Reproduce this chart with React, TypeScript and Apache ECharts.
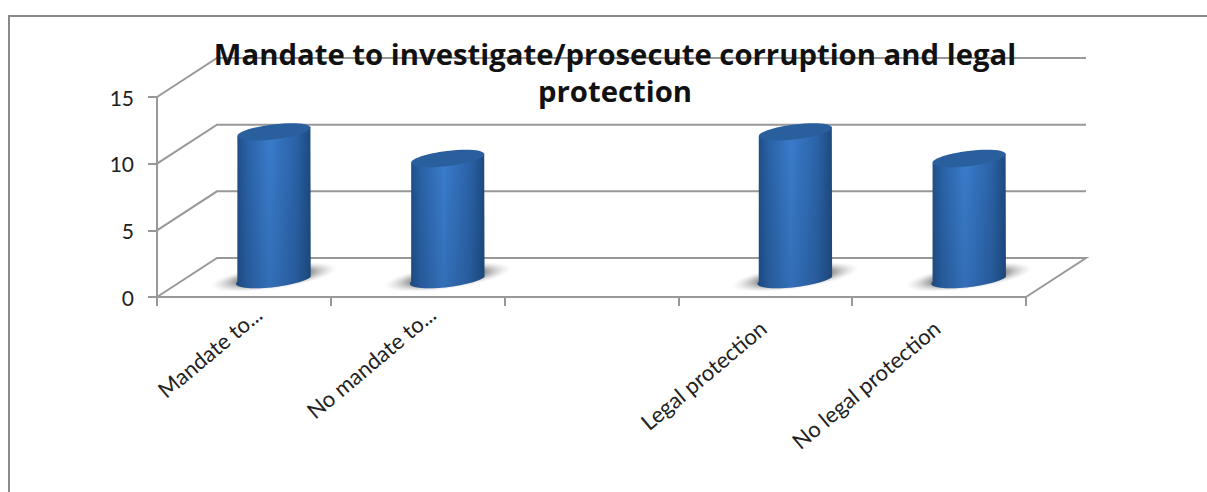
import React, { useEffect, useRef } from "react";
import * as echarts from "echarts";

const categories = ["Mandate to...", "No mandate to...", "", "Legal protection", "No legal protection"];
const values: (number | null)[] = [11, 9, null, 11, 9];
const yTicks = [0, 5, 10, 15];
const titleText = "Mandate to investigate/prosecute corruption and legal\nprotection";

const AXIS = "#989898";
const DEPTH_X = 60;
const DEPTH_Y = -39;

export default function App() {
  const ref = useRef<HTMLDivElement>(null);
  useEffect(() => {
    const chart = echarts.init(ref.current!, null, { renderer: "svg" });
    const wallData = yTicks.map((t) => [0, t]);
    const barData = values
      .map((v, i) => (v == null ? null : [i, v]))
      .filter(Boolean) as number[][];

    const renderWall = (params: any, api: any) => {
      const cs = params.coordSys;
      const p = api.coord([0, api.value(1)]);
      const left = cs.x;
      const right = cs.x + cs.width;
      const isFloor = api.value(1) === 0;
      const pts = [
        [left, p[1]],
        [left + DEPTH_X, p[1] + DEPTH_Y],
        [right + DEPTH_X, p[1] + DEPTH_Y],
      ];
      if (isFloor) pts.push([right, p[1]]);
      return {
        type: "polyline",
        shape: { points: pts },
        style: { stroke: AXIS, lineWidth: 2, fill: "none" },
        silent: true,
      };
    };

    const renderCyl = (_params: any, api: any) => {
      const top = api.coord([api.value(0), api.value(1)]);
      const base = api.coord([api.value(0), 0]);
      const cx = top[0] + DEPTH_X / 2;
      const ty = top[1] + DEPTH_Y / 2 + 1;
      const by = base[1] + DEPTH_Y / 2 - 0.5;
      const deg = 7;
      const rad = (deg * Math.PI) / 180;
      const rx = 36.8;
      const ry = 7.5;
      const ex = rx * Math.cos(rad);
      const ey = rx * Math.sin(rad);
      const d =
        `M ${cx - ex} ${ty + ey} L ${cx - ex} ${by + ey} ` +
        `A ${rx} ${ry} ${-deg} 0 0 ${cx + ex} ${by - ey} ` +
        `L ${cx + ex} ${ty - ey} Z`;
      return {
        type: "group",
        silent: true,
        children: [
          {
            type: "ellipse",
            x: cx,
            y: by,
            rotation: (8 * Math.PI) / 180,
            shape: { cx: 0, cy: 0, rx: 64, ry: 12 },
            style: {
              fill: {
                type: "radial",
                x: 0.5,
                y: 0.5,
                r: 0.5,
                colorStops: [
                  { offset: 0, color: "rgba(120,120,120,1)" },
                  { offset: 0.6, color: "rgba(140,140,140,0.85)" },
                  { offset: 1, color: "rgba(210,210,210,0)" },
                ],
              },
            },
          },
          {
            type: "path",
            shape: { pathData: d },
            style: {
              fill: {
                type: "linear",
                x: 0,
                y: 0,
                x2: 1,
                y2: 0,
                colorStops: [
                  { offset: 0, color: "#1d4c84" },
                  { offset: 0.15, color: "#2a62a6" },
                  { offset: 0.45, color: "#3a7ccc" },
                  { offset: 0.8, color: "#2b63a8" },
                  { offset: 1, color: "#1d4a7e" },
                ],
              },
            },
          },
          {
            type: "path",
            shape: { pathData: d },
            style: {
              fill: {
                type: "linear",
                x: 0,
                y: 0,
                x2: 0,
                y2: 1,
                colorStops: [
                  { offset: 0, color: "rgba(20,50,90,0)" },
                  { offset: 1, color: "rgba(20,50,90,0.18)" },
                ],
              },
            },
          },
          {
            type: "ellipse",
            x: cx,
            y: ty,
            rotation: rad,
            shape: { cx: 0, cy: 0, rx, ry },
            style: { fill: "#2a5f9e" },
          },
        ],
      };
    };

    chart.setOption({
      animation: false,
      backgroundColor: "#ffffff",
      title: {
        text: titleText,
        left: 610,
        top: 30,
        textAlign: "center",
        textStyle: {
          fontFamily: "'Open Sans'",
          fontWeight: "bold",
          fontSize: 29.3,
          lineHeight: 37,
          color: "#111111",
        },
      },
      grid: { left: 157, right: 181, top: 97, bottom: 195 },
      xAxis: {
        type: "category",
        data: categories.map((c) => ({
          value: c,
          textStyle: { padding: c.endsWith("...") ? [0, -19, 0, 0] : [0, 3, 0, 0] },
        })),
        boundaryGap: true,
        axisLine: { lineStyle: { color: AXIS, width: 2 } },
        axisTick: { show: true, alignWithLabel: false, length: 9, lineStyle: { color: AXIS, width: 2 } },
        axisLabel: {
          interval: 0,
          rotate: 40,
          margin: 26,
          fontFamily: "Lato",
          fontSize: 22,
          color: "#222222",
        },
        splitLine: { show: false },
      },
      yAxis: {
        type: "value",
        min: 0,
        max: 15,
        interval: 5,
        axisLine: { show: true, lineStyle: { color: AXIS, width: 2 } },
        axisTick: { show: true, length: 9, lineStyle: { color: AXIS, width: 2 } },
        axisLabel: {
          margin: 23,
          fontFamily: "Lato",
          fontSize: 21,
          color: "#222222",
          padding: [6, 0, 0, 0],
        },
        splitLine: { show: false },
      },
      graphic: [
        {
          type: "polyline",
          silent: true,
          shape: { points: [[9, 492], [9, 16], [1207, 16]] },
          style: { stroke: "#8a8a8a", lineWidth: 2, fill: "none" },
        },
      ],
      series: [
        {
          type: "custom",
          name: "walls",
          data: wallData,
          encode: { x: 0, y: 1 },
          renderItem: renderWall,
          z: 1,
        },
        {
          type: "custom",
          name: "Count",
          data: barData,
          encode: { x: 0, y: 1 },
          renderItem: renderCyl,
          z: 3,
        },
      ],
    });
    return () => chart.dispose();
  }, []);
  return (
    <div
      ref={ref}
      style={{ position: "fixed", left: 0, top: 0, width: 1207, height: 492 }}
    />
  );
}
